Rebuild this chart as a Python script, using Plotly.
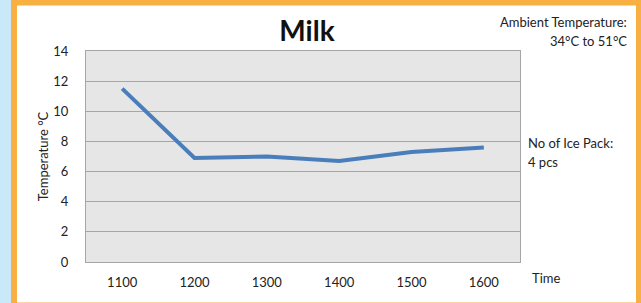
import plotly.graph_objects as go

times = ["1100", "1200", "1300", "1400", "1500", "1600"]
temps = [11.5, 6.9, 7.0, 6.7, 7.3, 7.6]
y_ticks = [0, 2, 4, 6, 8, 10, 12, 14]

W, H = 641, 303
L, R, T, B = 86, 520, 51, 262

def px(x):
    return (x - L) / (R - L)

def py(y):
    return (B - y) / (B - T)

font = "Lato, 'Open Sans', sans-serif"

fig = go.Figure()
fig.add_trace(go.Scatter(x=times, y=temps, mode="lines",
                         line=dict(color="#4a7ebb", width=4), showlegend=False))

fig.update_layout(
    width=W, height=H,
    margin=dict(l=L, r=W - R, t=T, b=H - B, pad=0),
    paper_bgcolor="white",
    plot_bgcolor="#e6e6e6",
    font=dict(family=font, size=13, color="#222"),
    title=dict(text="<b>Milk</b>", x=px(307), xanchor="center", xref="paper",
               y=1 - 31 / H, yanchor="middle", font=dict(size=28, color="#111", family=font)),
    xaxis=dict(type="category", range=[-0.5, 5.5], showgrid=False, ticks="",
               showline=True, mirror=True, linecolor="#a6a6a6", linewidth=1,
               tickfont=dict(size=13, color="#222"), ticklabelstandoff=8),
    yaxis=dict(range=[0, 14], tickvals=y_ticks, showgrid=True, gridcolor="#a6a6a6",
               gridwidth=1, zeroline=False, showline=True, mirror=True,
               linecolor="#a6a6a6", linewidth=1, ticks="",
               tickfont=dict(size=13, color="#222"), ticklabelstandoff=14,
               title=dict(text="Temperature °C", font=dict(size=13, color="#222"), standoff=1)),
    shapes=[
        dict(type="rect", xref="paper", yref="paper", x0=px(0), x1=px(11), y0=py(H), y1=py(0),
             fillcolor="#c9e8f8", line=dict(width=0), layer="below"),
        dict(type="rect", xref="paper", yref="paper", x0=px(14), x1=px(639), y0=py(305.5), y1=py(2.5),
             fillcolor="rgba(0,0,0,0)", line=dict(color="#f9b042", width=6), layer="below"),
    ],
    annotations=[
        dict(text="Ambient Temperature:", xref="paper", yref="paper", x=px(629), y=py(22),
             xanchor="right", yanchor="middle", showarrow=False, font=dict(size=13)),
        dict(text="34°C to 51°C", xref="paper", yref="paper", x=px(629), y=py(41),
             xanchor="right", yanchor="middle", showarrow=False, font=dict(size=13)),
        dict(text="No of Ice Pack:", xref="paper", yref="paper", x=px(526), y=py(143),
             xanchor="left", yanchor="middle", showarrow=False, font=dict(size=13)),
        dict(text="4 pcs", xref="paper", yref="paper", x=px(526), y=py(162),
             xanchor="left", yanchor="middle", showarrow=False, font=dict(size=13)),
        dict(text="Time", xref="paper", yref="paper", x=px(530), y=py(278),
             xanchor="left", yanchor="middle", showarrow=False, font=dict(size=13)),
    ],
)

fig.write_html("out.html", config={"displayModeBar": False},
               post_script="document.body.style.margin='0';document.body.style.overflow='hidden';")
